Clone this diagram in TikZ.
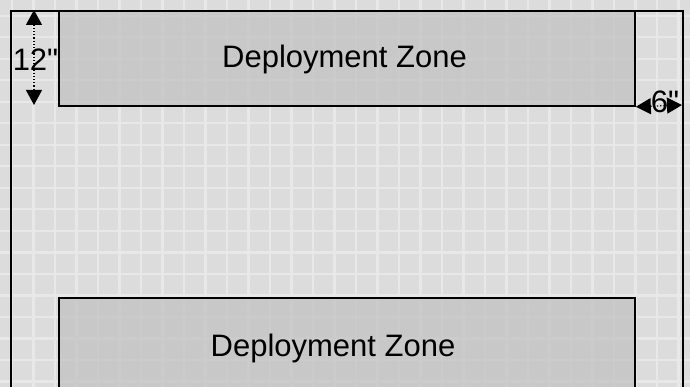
\documentclass[tikz,border=0pt]{standalone}
\usepackage{fontspec}
\setmainfont[Ligatures=TeXOff]{Liberation Sans}
\usepackage{tikz}
\usetikzlibrary{arrows.meta}
\definecolor{FieldGray}{HTML}{DCDCDC}
\definecolor{GridGray}{HTML}{E8E8E8}
\definecolor{ZoneGray}{HTML}{C4C4C4}

\begin{document}
\begin{tikzpicture}[
  x=1pt, y=-1pt,
  board/.style={rectangle, draw=black, line width=2.2pt, anchor=north west, inner sep=0pt, minimum width=672pt, minimum height=420pt},
  zone/.style={rectangle, draw=black, line width=1.8pt, fill=ZoneGray, fill opacity=0.8, anchor=north west, inner sep=0pt, minimum width=576pt},
  gridline/.style={draw=GridGray, line width=2.4pt},
  label/.style={anchor=base, inner sep=0pt, font=\fontsize{31}{36}\selectfont},
  dim/.style={{Triangle[length=15pt,width=16pt]}-{Triangle[length=15pt,width=16pt]}, dotted, line width=1.2pt, draw=black}
]
\useasboundingbox (0,0) rectangle (690,387);
\clip (0,0) rectangle (690,387);
\fill[FieldGray] (0,0) rectangle (690,387);
\foreach \k in {-1,...,30}
  \draw[gridline] ({33.3+21.5*\k},0) -- ++(0,387);
\foreach \k in {-6,...,12}
  \draw[gridline] (0,{123.3+21.5*\k}) -- ++(690,0);

\node[board] (board) at (10,10) {};
\node[zone, minimum height=95pt] (topzone) at (58,10) {};
\node[zone, minimum height=120pt] (botzone) at (58,297) {};

\node[label] (toplabel) at (344.5,67.7) {Deployment Zone};
\node[label] (botlabel) at (333,356) {Deployment Zone};

\coordinate (backtop) at (34,10);
\coordinate (backbot) at (34,105);
\coordinate (sidegap) at (682,105);

\draw[dim] (backtop) -- (backbot);
\draw[dim] (topzone.south east) -- (sidegap);

\node[label] (backdim) at (35.5,70.7) {12"};
\node[label] (sidedim) at (665,112.7) {6"};
\end{tikzpicture}
\end{document}
